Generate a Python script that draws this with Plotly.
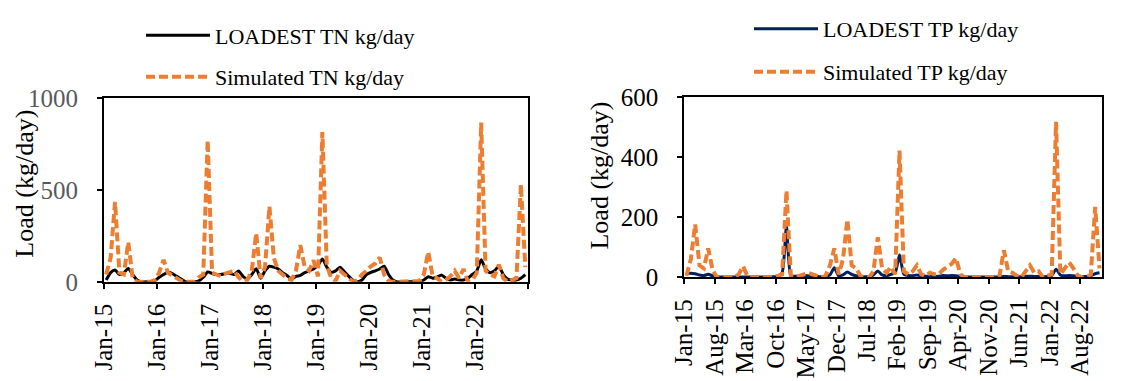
import numpy as np
import plotly.graph_objects as go

# ---------------- data (monthly, Jan-2015 .. Dec-2022) ----------------
tn_loadest = [10, 50, 65, 40, 50, 73, 40, 10, 0, 0, 0, 5,
              25, 40, 52, 45, 30, 15, 0, 0, 0, 5, 25, 54,
              45, 40, 40, 45, 47, 40, 59, 30, 15, 40, 72, 20,
              60, 85, 80, 70, 50, 35, 15, 30, 35, 50, 60, 70,
              90, 125, 80, 52, 60, 80, 55, 30, 7, 0, 10, 40,
              52, 60, 70, 85, 40, 10, 0, 0, 0, 0, 0, 0,
              10, 28, 20, 25, 38, 20, 10, 15, 10, 10, 20, 40,
              60, 120, 70, 50, 60, 85, 40, 15, 10, 10, 20, 40]
tn_sim = [40, 130, 435, 50, 40, 216, 20, 0, 0, 0, 0, 10,
          50, 120, 50, 35, 20, 5, 0, 0, 0, 25, 40, 770,
          50, 40, 30, 45, 50, 60, 25, 5, 10, 60, 265, 20,
          80, 410, 130, 60, 40, 20, 10, 60, 200, 80, 60, 117,
          30, 815, 90, 20, 5, 60, 40, 20, 0, 10, 40, 60,
          85, 100, 133, 40, 5, 0, 0, 0, 0, 0, 0, 5,
          40, 164, 30, 20, 0, 10, 30, 60, 20, 70, 0, 10,
          50, 866, 60, 40, 30, 94, 20, 0, 10, 20, 530, 80]
tp_loadest = [13, 14, 12, 8, 6, 10, 5, 2, 1, 1, 1, 1,
              1, 1, 1, 1, 1, 1, 1, 1, 2, 3, 15, 170,
              5, 4, 5, 6, 5, 4, 3, 2, 3, 8, 32, 5,
              8, 18, 10, 5, 3, 2, 2, 8, 21, 8, 5, 10,
              15, 75, 10, 6, 5, 8, 5, 4, 4, 3, 4, 6,
              5, 6, 5, 3, 1, 1, 1, 1, 1, 1, 1, 1,
              1, 3, 2, 2, 1, 2, 3, 4, 3, 3, 2, 3,
              6, 27, 8, 5, 6, 5, 4, 3, 3, 5, 12, 15]
tp_sim = [5, 60, 176, 40, 30, 96, 25, 0, 0, 0, 0, 0,
          10, 37, 5, 0, 0, 0, 0, 0, 0, 5, 10, 288,
          5, 0, 5, 10, 15, 10, 5, 0, 5, 40, 96, 10,
          60, 192, 40, 30, 5, 0, 0, 20, 133, 30, 15, 35,
          10, 421, 20, 10, 20, 40, 10, 5, 15, 10, 10, 25,
          35, 45, 64, 10, 0, 0, 0, 0, 0, 0, 0, 0,
          5, 90, 20, 15, 5, 0, 20, 40, 15, 20, 0, 5,
          10, 517, 10, 30, 50, 30, 5, 0, 0, 10, 234, 30]

tn_tick_months = [0, 12, 24, 36, 48, 60, 72, 84, 96]
tn_tick_labels = ["Jan-15", "Jan-16", "Jan-17", "Jan-18", "Jan-19",
                  "Jan-20", "Jan-21", "Jan-22", ""]
tp_tick_months = [0, 7, 14, 21, 28, 35, 42, 49, 56, 63, 70, 77, 84, 91]
tp_tick_labels = ["Jan-15", "Aug-15", "Mar-16", "Oct-16", "May-17", "Dec-17",
                  "Jul-18", "Feb-19", "Sep-19", "Apr-20", "Nov-20", "Jun-21",
                  "Jan-22", "Aug-22"]
tn_yticks = [0, 500, 1000]
tp_yticks = [0, 200, 400, 600]

# month positions (points sit in the middle of each month slot)
months = np.arange(len(tn_sim)) + 0.5

# the page body has an 8px margin; the figure fills the rest of the window
OFF = 8
W, H = 1128 - OFF, 381 - OFF
FONT = "Liberation Serif"
ORANGE = "#ED7D31"
NAVY = "#002060"

fig = go.Figure()

fig.add_trace(go.Scatter(x=months, y=tn_loadest, mode="lines", name="LOADEST TN kg/day",
                         line=dict(color="black", width=3, shape="spline", smoothing=0.6),
                         xaxis="x", yaxis="y", legend="legend"))
fig.add_trace(go.Scatter(x=months, y=tn_sim, mode="lines", name="Simulated TN kg/day",
                         line=dict(color=ORANGE, width=4, dash="9px,4px"),
                         xaxis="x", yaxis="y", legend="legend2"))
fig.add_trace(go.Scatter(x=months, y=tp_loadest, mode="lines", name="LOADEST TP kg/day",
                         line=dict(color=NAVY, width=3, shape="spline", smoothing=0.6),
                         xaxis="x2", yaxis="y2", legend="legend3"))
fig.add_trace(go.Scatter(x=months, y=tp_sim, mode="lines", name="Simulated TP kg/day",
                         line=dict(color=ORANGE, width=4, dash="9px,4px"),
                         xaxis="x2", yaxis="y2", legend="legend4"))

def px_x(p):
    return (p - OFF) / W

def px_y(p):
    return 1 - (p - OFF) / H

axis_common = dict(showline=True, linecolor="black", linewidth=2, mirror=True,
                   ticks="outside", ticklen=5, tickwidth=2, tickcolor="black",
                   showgrid=False, zeroline=False, fixedrange=True, automargin=False)

fig.update_layout(
    template="none",
    width=W, height=H,
    margin=dict(l=0, r=0, t=0, b=0, pad=0),
    paper_bgcolor="white", plot_bgcolor="white",
    font=dict(family=FONT, size=25, color="black"),
    xaxis=dict(domain=[px_x(104), px_x(527.5)], range=[0, 96], anchor="y",
               tickmode="array", tickvals=tn_tick_months, ticktext=tn_tick_labels,
               tickangle=-90, ticklabelstandoff=5,
               tickfont=dict(family=FONT, size=25, color="black"), **axis_common),
    yaxis=dict(domain=[px_y(278), px_y(87)], range=[0, 1000], anchor="x",
               tickmode="array", tickvals=tn_yticks, ticklabelstandoff=14,
               tickfont=dict(family=FONT, size=25, color="#595959"), **axis_common),
    xaxis2=dict(domain=[px_x(684.3), px_x(1101.7)], range=[0, 96], anchor="y2",
                tickmode="array", tickvals=tp_tick_months, ticktext=tp_tick_labels,
                tickangle=-90, ticklabelstandoff=5,
                tickfont=dict(family=FONT, size=25, color="black"), **axis_common),
    yaxis2=dict(domain=[px_y(273.3), px_y(85.7)], range=[0, 600], anchor="x2",
                tickmode="array", tickvals=tp_yticks, ticklabelstandoff=14,
                tickfont=dict(family=FONT, size=25, color="black"), **axis_common),
    showlegend=True,
)

leg_common = dict(font=dict(family=FONT, size=22, color="black"), bgcolor="rgba(0,0,0,0)",
                  itemwidth=64, xanchor="left", yanchor="middle", orientation="v")
fig.update_layout(
    legend=dict(x=px_x(141), y=px_y(22), **leg_common),
    legend2=dict(x=px_x(141), y=px_y(65), **leg_common),
    legend3=dict(x=px_x(749), y=px_y(15), **leg_common),
    legend4=dict(x=px_x(749), y=px_y(60), **leg_common),
)

fig.add_annotation(text="Load (kg/day)", xref="paper", yref="paper",
                   x=px_x(8), y=px_y(176.5), textangle=-90, showarrow=False,
                   font=dict(family=FONT, size=26, color="black"),
                   xanchor="left", yanchor="middle")
fig.add_annotation(text="Load (kg/day)", xref="paper", yref="paper",
                   x=px_x(600), y=px_y(167.5), textangle=-90, showarrow=False,
                   font=dict(family=FONT, size=26, color="black"),
                   xanchor="center", yanchor="middle")

fig.write_html("out.html")
